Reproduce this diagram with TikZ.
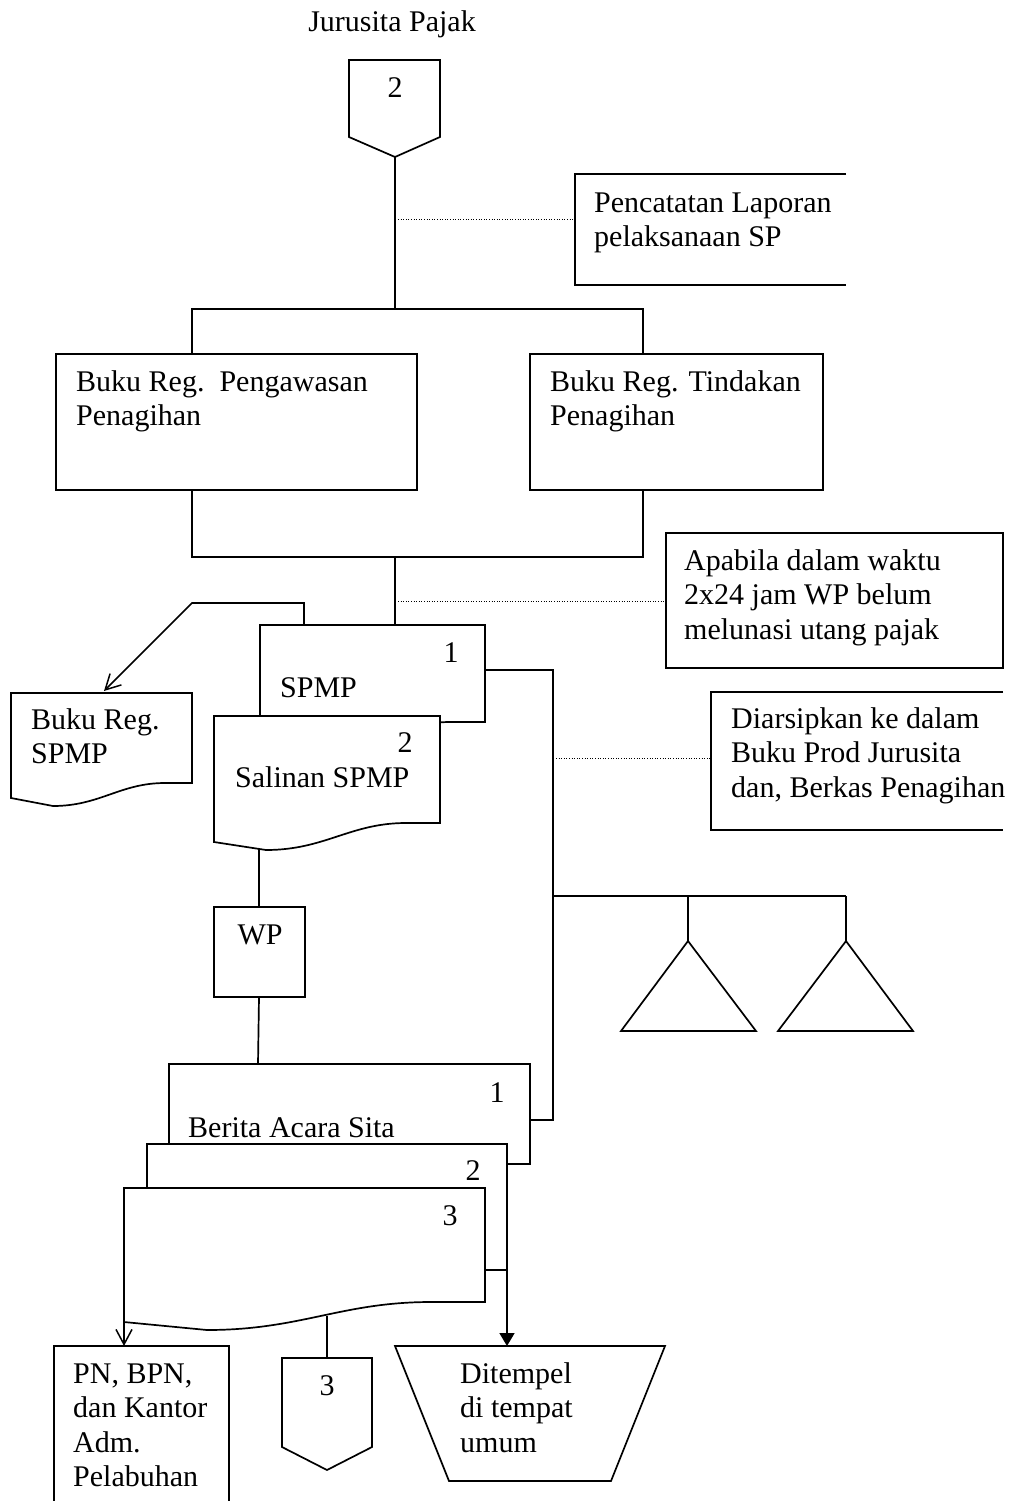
\documentclass[tikz,border=0pt]{standalone}
\usepackage{fontspec}
\setmainfont{Liberation Serif}
\usetikzlibrary{arrows.meta}
\begin{document}
\begin{tikzpicture}[x=1pt,y=-1pt,
  ln/.style={line width=1.7pt, line join=miter},
  dotline/.style={line width=1pt, dash pattern=on 1pt off 1.6pt},
  txt/.style={anchor=base west, inner sep=0pt, align=left, font=\fontsize{30}{34.6}\selectfont},
  ctxt/.style={anchor=base, inner sep=0pt, font=\fontsize{30}{34.6}\selectfont},
  openarr/.style={-{Straight Barb[length=15pt,width=16pt,line width=1.5pt]}},
  fillarr/.style={-{Triangle[length=13pt,width=15pt]}},
]
\useasboundingbox (0,0) rectangle (1011,1501);

% ---------- title and off-page connector 2
\node[ctxt] (title) at (392,32) {Jurusita Pajak};
\draw[ln] (349,60) -- (440,60) -- (440,137) -- (395,157) -- (349,137) -- cycle;
\coordinate (c2) at (395,157);
\node[ctxt] (c2lab) at (395,98) {2};

% ---------- trunk and note (multi-line nodes are anchored at their last baseline)
\coordinate (br1) at (395,309);
\draw[ln] (c2) -- (br1);
\coordinate (n1a) at (398,219);
\coordinate (n1b) at (575,219);
\draw[dotline] (n1a) -- (n1b);
\draw[ln] (846,174) -- (575,174) -- (575,285) -- (846,285);
\node[txt] (note1) at (594,246.6) {Pencatatan Laporan\\pelaksanaan SP};

% ---------- two register boxes
\coordinate (bl) at (192,309);
\coordinate (brr) at (643,309);
\draw[ln] (192,354) -- (bl) -- (brr) -- (643,354);
\draw[ln] (56,354) rectangle (417,490);
\draw[ln] (530,354) rectangle (823,490);
\node[txt] (peng) at (76,425.6) {Buku Reg.\ \ Pengawasan\\Penagihan};
\node[txt] (tind) at (550,425.6) {Buku Reg. Tindakan\\Penagihan};
\coordinate (jn) at (395,557);
\draw[ln] (192,490) -- (192,557) -- (643,557) -- (643,490);
\coordinate (spmptop) at (395,625);
\draw[ln] (jn) -- (spmptop);
\coordinate (n2a) at (398,601);
\coordinate (n2b) at (666,601);
\draw[dotline] (n2a) -- (n2b);
\draw[ln] (666,533) rectangle (1003,668);
\node[txt] (note2) at (684,639.2) {Apabila dalam waktu\\2x24 jam WP belum\\melunasi utang pajak};

% ---------- SPMP documents
\draw[ln, fill=white] (260,740) -- (260,625) -- (485,625) -- (485,722) -- (451,722)
  .. controls (395,722) and (370,748) .. (312,748) -- cycle;
\draw[ln, fill=white] (214,842) -- (214,716) -- (440,716) -- (440,823) -- (406,823)
  .. controls (350,823) and (325,850) .. (266,850) -- cycle;
\node[ctxt] (spmp1) at (451,662) {1};
\node[txt] (spmp) at (280,697) {SPMP};
\node[ctxt] (sal2) at (405,752) {2};
\node[txt] (sal) at (235,787) {Salinan SPMP};

% Buku Reg SPMP
\draw[ln, fill=white] (11,798) -- (11,693) -- (192,693) -- (192,783) -- (165,783)
  .. controls (120,783) and (100,806) .. (53,806) -- cycle;
\node[txt] (bregs) at (31,763.6) {Buku Reg.\\SPMP};
\coordinate (sa) at (304,625);
\coordinate (sb) at (304,603);
\coordinate (sc) at (192,603);
\coordinate (sd) at (104,691);
\draw[ln, openarr] (sa) -- (sb) -- (sc) -- (sd);

% ---------- right branch
\coordinate (r0) at (485,670);
\coordinate (r1) at (553,670);
\coordinate (r2) at (553,1120);
\coordinate (r3) at (530,1120);
\draw[ln] (r0) -- (r1) -- (r2) -- (r3);
\coordinate (n3a) at (556,758);
\coordinate (n3b) at (711,758);
\draw[dotline] (n3a) -- (n3b);
\draw[ln] (1003,692) -- (711,692) -- (711,830) -- (1003,830);
\node[txt] (note3) at (731,797.2) {Diarsipkan ke dalam\\Buku Prod Jurusita\\dan, Berkas Penagihan};

\coordinate (t0) at (553,896);
\coordinate (t1) at (688,896);
\coordinate (t2) at (846,896);
\draw[ln] (t0) -- (t2);
\draw[ln] (t1) -- (688,941);
\draw[ln] (t2) -- (846,941);
\draw[ln] (688,941) -- (756,1031) -- (621,1031) -- cycle;
\draw[ln] (846,941) -- (913,1031) -- (778,1031) -- cycle;

% ---------- WP
\coordinate (w0) at (259,849);
\coordinate (w1) at (259,907);
\draw[ln] (w0) -- (w1);
\draw[ln] (214,907) rectangle (305,997);
\node[ctxt] (wp) at (260,944) {WP};
\coordinate (w2) at (259,997);
\coordinate (w3) at (258,1064);
\draw[ln] (w2) -- (w3);

% ---------- Berita Acara Sita documents
\draw[ln, fill=white] (169,1184) -- (169,1064) -- (530,1064) -- (530,1164) -- (476,1164)
  .. controls (400,1164) and (360,1192) .. (252,1192) -- cycle;
\draw[ln, fill=white] (147,1290) -- (147,1144) -- (507,1144) -- (507,1270) -- (453,1270)
  .. controls (380,1270) and (340,1298) .. (230,1298) -- cycle;
\draw[ln, fill=white] (124,1322) -- (124,1188) -- (485,1188) -- (485,1302) -- (431,1302)
  .. controls (341,1302) and (301,1330) .. (207,1330) -- cycle;
\node[ctxt] (ba1) at (497,1102) {1};
\node[txt] (ba) at (188,1137) {Berita Acara Sita};
\node[ctxt] (ba2) at (473,1180) {2};
\node[ctxt] (ba3) at (450,1225) {3};

% ---------- outputs
\coordinate (o1) at (124,1322);
\coordinate (o1e) at (124,1346);
\draw[ln, openarr] (o1) -- (o1e);
\draw[ln] (229,1510) -- (229,1346) -- (54,1346) -- (54,1510);
\node[txt] (pn) at (73,1486.8) {PN, BPN,\\dan Kantor\\Adm.\\Pelabuhan};

\coordinate (o2) at (327,1316);
\coordinate (o2e) at (327,1358);
\draw[ln] (o2) -- (o2e);
\draw[ln] (282,1358) -- (372,1358) -- (372,1447) -- (327,1470) -- (282,1447) -- cycle;
\node[ctxt] (c3) at (327,1395) {3};

\coordinate (o3) at (507,1270);
\coordinate (o3e) at (507,1346);
\draw[ln, fillarr] (o3) -- (o3e);
\draw[ln] (395,1346) -- (665,1346) -- (611,1481) -- (449,1481) -- cycle;
\node[txt] (dit) at (460,1452.2) {Ditempel\\di tempat\\umum};
\end{tikzpicture}
\end{document}
